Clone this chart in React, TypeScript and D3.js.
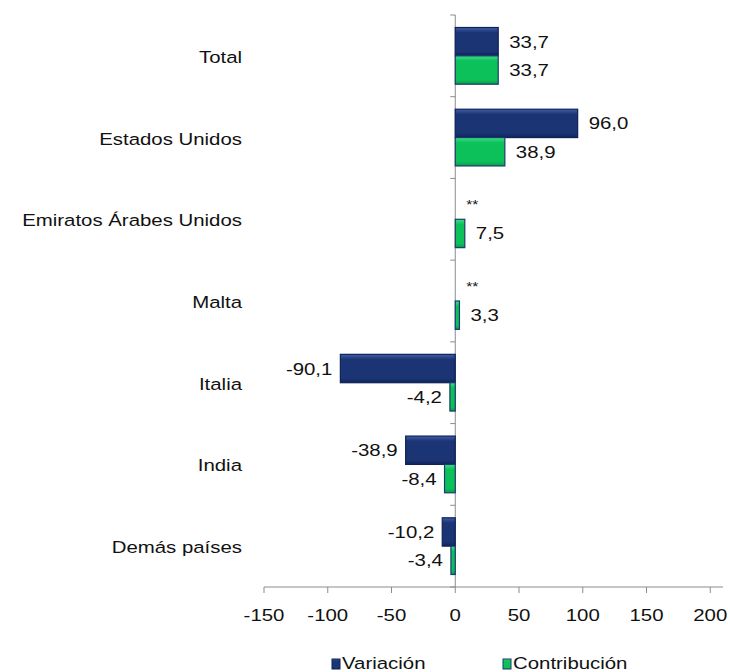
import { useEffect, useRef } from 'react';
import * as d3 from 'd3';

const categories = ['Total', 'Estados Unidos', 'Emiratos Árabes Unidos', 'Malta', 'Italia', 'India', 'Demás países'];
const variacion: (number | null)[] = [33.7, 96.0, null, null, -90.1, -38.9, -10.2];
const contribucion = [33.7, 38.9, 7.5, 3.3, -4.2, -8.4, -3.4];
const xTicks = [-150, -100, -50, 0, 50, 100, 150, 200];
const seriesNames = ['Variación', 'Contribución'];

const fmt = (v: number) => v.toFixed(1).replace('.', ',');

export default function App() {
  const svgRef = useRef<SVGSVGElement | null>(null);

  useEffect(() => {
    if (!svgRef.current) return;
    const svg = d3.select(svgRef.current);
    svg.selectAll('*').remove();

    const width = 730;
    const height = 672;
    const font = 'Liberation Sans, Arial, sans-serif';
    const stretch = 1.2;

    const x = d3.scaleLinear().domain([-150, 210]).range([264, 723]);
    const y = d3.scaleBand().domain(categories).range([15, 587]);
    const inner = d3.scaleBand().domain(seriesNames).range([12.5, y.bandwidth() - 12.5]);

    const defs = svg.append('defs');
    const grad = (id: string, light: string, mid: string, dark: string) => {
      const gr = defs.append('linearGradient').attr('id', id).attr('x1', 0).attr('y1', 0).attr('x2', 0).attr('y2', 1);
      gr.append('stop').attr('offset', '0%').attr('stop-color', light);
      gr.append('stop').attr('offset', '18%').attr('stop-color', mid);
      gr.append('stop').attr('offset', '85%').attr('stop-color', mid);
      gr.append('stop').attr('offset', '100%').attr('stop-color', dark);
    };
    grad('gNavy', '#3f5fa8', '#1b3474', '#10235a');
    grad('gGreen', '#3ee088', '#0cc15a', '#079a48');

    const colors = ['url(#gNavy)', 'url(#gGreen)'];
    const strokes = ['#0f2158', '#1d3a6e'];

    const g = svg.append('g');

    // text slightly widened, like the original rendering
    const label = (tx: number, ty: number, str: string, anchor = 'start', size = 17) =>
      g.append('text')
        .attr('transform', `translate(${tx},${ty}) scale(${stretch},1)`)
        .attr('text-anchor', anchor)
        .style('font-family', font).style('font-size', `${size}px`)
        .style('fill', '#111')
        .text(str);

    // axes
    g.append('line')
      .attr('x1', x(0)).attr('x2', x(0)).attr('y1', 15).attr('y2', 587)
      .attr('stroke', '#8c8c8c');
    const bounds = d3.range(categories.length + 1).map(i => 15 + i * y.step());
    g.selectAll('.ytick').data(bounds).enter().append('line')
      .attr('x1', x(0) - 5).attr('x2', x(0))
      .attr('y1', d => d).attr('y2', d => d)
      .attr('stroke', '#8c8c8c');
    g.append('line')
      .attr('x1', x.range()[0]).attr('x2', x.range()[1]).attr('y1', 587).attr('y2', 587)
      .attr('stroke', '#8c8c8c');
    g.selectAll('.xtick').data(xTicks).enter().append('line')
      .attr('x1', d => x(d)).attr('x2', d => x(d)).attr('y1', 587).attr('y2', 593)
      .attr('stroke', '#8c8c8c');
    xTicks.forEach(t => label(x(t), 621, String(t), 'middle'));

    // category labels
    categories.forEach(c => label(242, (y(c) as number) + y.bandwidth() / 2 + 7, c, 'end'));

    const series = [variacion, contribucion];
    series.forEach((vals, si) => {
      vals.forEach((v, ci) => {
        const top = (y(categories[ci]) as number) + (inner(seriesNames[si]) as number);
        const h = inner.bandwidth();
        if (v === null) {
          label(x(0) + 11, top + h / 2 + 4, '**', 'start', 13);
          return;
        }
        const x0 = Math.min(x(0), x(v));
        const w = Math.abs(x(v) - x(0));
        g.append('rect')
          .attr('x', x0).attr('y', top).attr('width', Math.max(w, 1)).attr('height', h)
          .attr('fill', colors[si]).attr('stroke', strokes[si]).attr('stroke-width', 1.2);
        label(v >= 0 ? x(v) + 11 : x(v) - 8, top + h / 2 + 6, fmt(v), v >= 0 ? 'start' : 'end');
      });
    });

    // legend
    const legendX = [332, 503];
    seriesNames.forEach((name, i) => {
      g.append('rect')
        .attr('x', legendX[i]).attr('y', 659).attr('width', 8).attr('height', 10)
        .attr('fill', colors[i]).attr('stroke', strokes[i]);
      label(legendX[i] + 10, 669, name);
    });

    svg.attr('width', width).attr('height', height);
  }, []);

  return (
    <svg ref={svgRef} width={730} height={672}
      style={{ position: 'absolute', left: 0, top: 0, background: '#fff' }} />
  );
}
